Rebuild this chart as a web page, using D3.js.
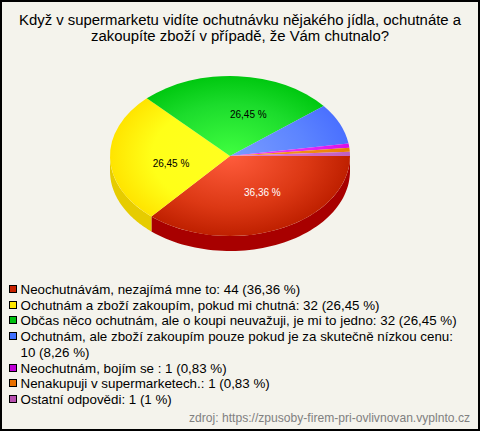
<!DOCTYPE html>
<html><head><meta charset="utf-8">
<script src="https://cdn.jsdelivr.net/npm/d3@7"></script>
<style>html,body{margin:0;padding:0;background:#fff}svg{display:block}text{font-family:"Liberation Sans",Arial,sans-serif}</style>
</head><body><svg id="c" width="480" height="431"></svg>
<script>
const titleLines = ["Když v supermarketu vidíte ochutnávku nějakého jídla, ochutnáte a","zakoupíte zboží v případě, že Vám chutnalo?"];
const values = [44,32,32,10,1,1,1];
const sliceLabels = ["36,36 %","26,45 %","26,45 %","","","",""];
const labelColors = ["#fff","#000","#000","#000","#000","#000","#000"];
const legendLines = [
 ["Neochutnávám, nezajímá mne to: 44 (36,36 %)"],
 ["Ochutnám a zboží zakoupím, pokud mi chutná: 32 (26,45 %)"],
 ["Občas něco ochutnám, ale o koupi neuvažuji, je mi to jedno: 32 (26,45 %)"],
 ["Ochutnám, ale zboží zakoupím pouze pokud je za skutečně nízkou cenu:","10 (8,26 %)"],
 ["Neochutnám, bojím se : 1 (0,83 %)"],
 ["Nenakupuji v supermarketech.: 1 (0,83 %)"],
 ["Ostatní odpovědi: 1 (1 %)"]];
const swatchColors = ["#c82200","#ffe800","#00c010","#4070ff","#c000d8","#e87000","#b850b0"];
const innerColors  = ["#ff5c3c","#ffff20","#40ff40","#7a9cff","#f040ff","#ff9a20","#e080d0"];
const midColors    = ["#dc3814","#ffff18","#1cdc2c","#5c84ff","#e428f4","#f08c14","#d068c8"];
const outerColors  = ["#bf2000","#ffe400","#00c810","#4a70ff","#d810e8","#e88000","#c060c0"];
const wallColors   = ["#a80000","#e6cc00","#00a000","#3050d0","#a000b0","#c06000","#904090"];
const source = "zdroj: https://zpusoby-firem-pri-ovlivnovan.vyplnto.cz";

const labelRadius = 0.55, labelNudgeX = [5,7,14,0,0,0,0], labelNudgeY = [-4,6,2,0,0,0,0];

const svg = d3.select("#c");
const W=480,H=431,cx=230,cy=156,rx=120,ry=80,depth=15;
svg.append("rect").attr("x",1).attr("y",1).attr("width",W-2).attr("height",H-2).attr("fill","#f4f3ec").attr("stroke","#000").attr("stroke-width",2);

svg.append("g").selectAll("text").data(titleLines).join("text")
 .attr("x",240).attr("y",(d,i)=>25+i*15.6).attr("text-anchor","middle").attr("font-size",14.9).attr("fill","#000").text(d=>d);

const defs = svg.append("defs");
values.forEach((v,i)=>{
 const g=defs.append("radialGradient").attr("id","g"+i).attr("gradientUnits","userSpaceOnUse").attr("cx",0).attr("cy",0).attr("r",rx);
 g.append("stop").attr("offset",0).attr("stop-color",innerColors[i]);
 g.append("stop").attr("offset",0.65).attr("stop-color",midColors[i]);
 g.append("stop").attr("offset",1).attr("stop-color",outerColors[i]);
});

const pie = d3.pie().sort(null).startAngle(Math.PI/2).endAngle(Math.PI/2+2*Math.PI);
const arcs = pie(values);
const arc = d3.arc().innerRadius(0).outerRadius(rx);
const sx = a=>rx*Math.sin(a), sy = a=>ry*(-Math.cos(a));

const wall = svg.append("g").attr("transform",`translate(${cx},${cy})`);
arcs.forEach((d,i)=>{
 const a0=Math.max(d.startAngle,Math.PI/2), a1=Math.min(d.endAngle,1.5*Math.PI);
 if(a1<=a0) return;
 const ang=d3.range(0,61).map(k=>a0+(a1-a0)*k/60);
 const area=d3.area().x(a=>sx(a)).y0(a=>sy(a)).y1(a=>sy(a)+depth);
 wall.append("path").attr("d",area(ang)).attr("fill",wallColors[i]);
});

const face = svg.append("g").attr("transform",`translate(${cx},${cy}) scale(1,${ry/rx})`);
face.selectAll("path").data(arcs).join("path").attr("d",arc)
 .attr("fill",(d,i)=>`url(#g${i})`);

svg.append("g").selectAll("text").data(arcs).join("text")
 .attr("x",(d,i)=>cx+labelRadius*sx((d.startAngle+d.endAngle)/2)+labelNudgeX[i])
 .attr("y",(d,i)=>cy+labelRadius*sy((d.startAngle+d.endAngle)/2)+labelNudgeY[i]+4)
 .attr("text-anchor","middle").attr("font-size",10)
 .attr("fill",(d,i)=>labelColors[i]).text((d,i)=>sliceLabels[i]);

const lg = svg.append("g");
let row=0;
legendLines.forEach((lines,i)=>{
 const y=289+row*15.7;
 lg.append("rect").attr("x",9.5).attr("y",Math.round(y-4)+0.5).attr("width",7).attr("height",7).attr("fill",swatchColors[i]).attr("stroke","#000");
 lines.forEach((t,j)=>{
  lg.append("text").attr("x",20.5).attr("y",289+(row+j)*15.7+5).attr("font-size",13.35).attr("fill","#000").text(t);
 });
 row+=lines.length;
});
svg.append("text").attr("x",470).attr("y",422).attr("text-anchor","end").attr("font-size",12.1).attr("fill","#808080").text(source);
</script></body></html>
